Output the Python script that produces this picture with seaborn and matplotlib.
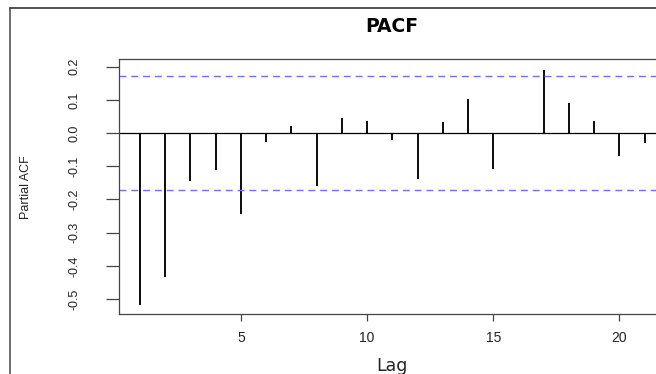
import numpy as np
import pandas as pd
import seaborn as sns
import matplotlib.pyplot as plt
from matplotlib.lines import Line2D

# partial autocorrelations, lags 1..21
lags = list(range(1, 22))
pacf = [-0.518, -0.433, -0.143, -0.111, -0.245, -0.028, 0.022, -0.161,
        0.046, 0.037, -0.021, -0.138, 0.033, 0.102, -0.108, 0.0,
        0.190, 0.090, 0.037, -0.070, -0.031]
conf = 0.172  # 95% bound

yticks = [-0.5, -0.4, -0.3, -0.2, -0.1, 0.0, 0.1, 0.2]
ytick_labels = ['-0.5', '-0.4', '-0.3', '-0.2', '-0.1', '0.0', '0.1', '0.2']
xticks = [5, 10, 15, 20]

df = pd.DataFrame({'lag': lags, 'pacf': pacf})

sns.set_theme(style='white')
plt.rcParams['font.family'] = ['Liberation Sans', 'DejaVu Sans']

W, H = 656, 374
fig = plt.figure(figsize=(W / 100, H / 100), dpi=100)
ax = fig.add_axes([119 / W, (H - 314) / H, 1 - 119 / W, (314 - 59.3) / H])

sns.barplot(data=df, x='lag', y='pacf', native_scale=True, width=0.08,
            color='#111', saturation=1, edgecolor='none', linewidth=0, ax=ax)
for p in ax.patches:
    p.set_antialiased(False)

ax.axhline(0, color='black', lw=0.9)
for c in (conf, -conf):
    ax.axhline(c, color='#7070ff', lw=1.0, ls=(0, (5, 3.5)))

ax.set_xlim(0.168, 21.45)
ax.set_ylim(-0.545, 0.222)

ax.set_yticks(yticks)
ax.set_yticklabels(ytick_labels, rotation=90, va='center', fontsize=9, color='#222')
ax.set_xticks(xticks)
ax.set_xticklabels([str(t) for t in xticks], fontsize=10, color='#222')
ax.tick_params(axis='y', length=9.5, width=0.9, color='#444', pad=18, left=True)
ax.tick_params(axis='x', length=5, width=0.9, color='#444', pad=7, bottom=True)

for s in ('left', 'top', 'bottom'):
    ax.spines[s].set_color('#444')
    ax.spines[s].set_linewidth(0.9)
ax.spines['right'].set_visible(False)

ax.set_xlabel('')
ax.set_ylabel('')
fig.text(26 / W, 1 - 187 / H, 'Partial ACF', rotation=90, ha='center', va='center',
         fontsize=9, color='#222')
fig.text(392 / W, 1 - 366 / H, 'Lag', ha='center', va='center', fontsize=12.5,
         color='#222', family=['DejaVu Sans'])
fig.text(392 / W, 1 - 26 / H, 'PACF', ha='center', va='center', fontsize=13.5,
         fontweight='bold', color='black', family=['DejaVu Sans'])

# window frame around the plot
fig.add_artist(Line2D([9.5 / W, 9.5 / W], [0, 1 - 8 / H], color='#555', lw=1.2,
                      transform=fig.transFigure))
fig.add_artist(Line2D([9.5 / W, 1], [1 - 8 / H, 1 - 8 / H], color='#333', lw=1.2,
                      transform=fig.transFigure))

fig.savefig('out.png', dpi=100)
